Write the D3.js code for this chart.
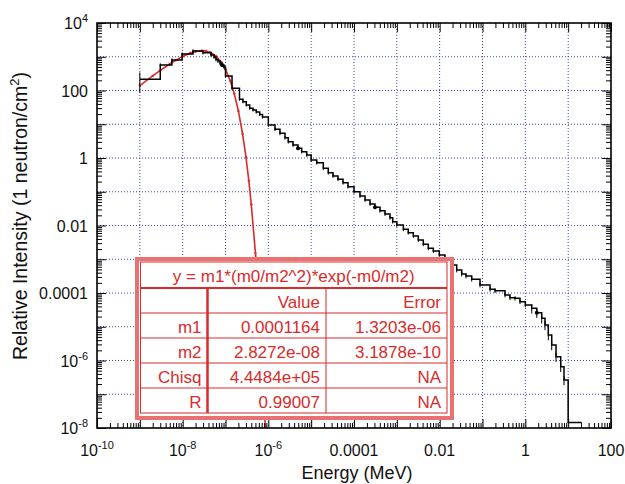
<!DOCTYPE html>
<html>
<head>
<meta charset="utf-8">
<script src="https://cdn.jsdelivr.net/npm/d3@7"></script>
<style>
  html, body { margin: 0; padding: 0; background: #fff; }
  svg { display: block; font-family: "Liberation Sans", Arial, Helvetica, sans-serif; }
</style>
</head>
<body>
<div id="chart"></div>
<script>
// Measured spectrum: bin start energy (MeV) and relative intensity
const binEnergy = [
  1e-9, 3e-9, 5.6e-9, 9.7e-9, 1.74e-8, 2.98e-8, 4.59e-8, 5.39e-8, 6.0e-8, 6.68e-8,
  7.44e-8, 8.29e-8, 9.23e-8, 1e-7, 1.42e-7, 2.12e-7, 2.56e-7, 3.06e-7, 3.67e-7, 4.39e-7,
  5.24e-7, 6.29e-7, 7.31e-7, 1e-6, 1.43e-6, 1.87e-6, 2.45e-6, 2.92e-6, 3.77e-6, 4.93e-6,
  6.01e-6, 7.87e-6, 1e-5, 1.35e-5, 1.92e-5, 2.51e-5, 3.24e-5, 4.23e-5, 5.54e-5, 7.24e-5,
  1e-4, 1.38e-4, 1.81e-4, 2.37e-4, 3.09e-4, 4.05e-4, 5.3e-4, 6.93e-4, 8.01e-4, 1e-3,
  1.42e-3, 1.85e-3, 2.43e-3, 3.17e-3, 4.15e-3, 5.43e-3, 7.11e-3, 9.8e-3, 1.33e-2, 1.91e-2,
  2.5e-2, 3.27e-2, 4.12e-2, 5.6e-2, 8.75e-2, 0.15, 0.196, 0.335, 0.438, 0.574,
  0.751, 1, 1.41, 1.85, 2.41, 2.88, 3.44, 4.13, 5.2, 6.7,
  8.0, 10, 20.7
];
const binIntensity = [
  215, 570, 801, 1206, 1480, 1318, 1127, 984, 829, 748,
  653, 570, 497, 269, 116, 54.9, 46.6, 37.2, 29.7, 26.4,
  23.1, 19.5, 16.4, 9.5, 7.08, 5.39, 4.0, 3.04, 2.43, 1.94,
  1.54, 1.23, 0.873, 0.726, 0.495, 0.367, 0.293, 0.234, 0.185, 0.141,
  0.1003, 0.0748, 0.057, 0.0434, 0.0346, 0.0274, 0.0219, 0.017, 0.013, 0.01035,
  0.00772, 0.00612, 0.00489, 0.00372, 0.00277, 0.00211, 0.00175, 0.001337, 0.000984, 0.000676,
  0.00048, 0.000366, 0.000319, 0.000255, 0.000173, 0.000129, 0.000117, 8.73e-5, 7.26e-5, 6.97e-5,
  5.52e-5, 4.41e-5, 3.52e-5, 2.61e-5, 1.78e-5, 1.13e-5, 5.7e-6, 2.88e-6, 1.3e-6, 6.55e-7,
  2.64e-7, 1.46e-8, 1.46e-8
];
// relative error of each bin (fraction of the value)
const binError = [
  0.6, 0.12, 0.12, 0.12, 0.12, 0.12, 0.12, 0.12, 0.12, 0.12,
  0.12, 0.12, 0.12, 0.1, 0.1, 0.1, 0.1, 0.1, 0.1, 0.1,
  0.1, 0.1, 0.1, 0.12, 0.12, 0.12, 0.12, 0.12, 0.12, 0.12,
  0.12, 0.12, 0.12, 0.12, 0.12, 0.12, 0.12, 0.12, 0.12, 0.12,
  0.12, 0.12, 0.12, 0.12, 0.12, 0.12, 0.12, 0.12, 0.12, 0.12,
  0.12, 0.12, 0.12, 0.12, 0.12, 0.12, 0.12, 0.12, 0.15, 0.15,
  0.15, 0.15, 0.15, 0.15, 0.15, 0.15, 0.15, 0.15, 0.15, 0.15,
  0.15, 0.15, 0.3, 0.3, 0.3, 0.3, 0.3, 0.3, 0.3, 0.3,
  0.3, 0, 0
];
// bins drawn with a filled marker
const markedBins = [11, 29, 44, 59, 73];

// Maxwellian fit curve (sampled points)
const fitEnergy = [
  1e-9, 2e-9, 3e-9, 5e-9, 7e-9, 1e-8, 1.5e-8, 2e-8, 2.83e-8, 3.5e-8,
  4.5e-8, 6e-8, 8e-8, 1e-7, 1.3e-7, 1.6e-7, 2e-7, 2.5e-7, 3e-7, 3.5e-7,
  4e-7, 5e-7, 6e-7, 7e-7, 8e-7, 8.5e-7
];
const fitValue = [
  140.5, 271.4, 392.9, 610.2, 795.9, 1022.5, 1285.2, 1435.7, 1514.7, 1478,
  1334, 1046.4, 687.4, 423.9, 190.6, 81.2, 24.68, 5.265, 1.078, 0.2143,
  0.04177, 1.52e-3, 5.31e-5, 1.8e-6, 6.0e-8, 1.085e-8
];

// Fit result table
const fitEquation = 'y = m1*(m0/m2^2)*exp(-m0/m2)';
const fitHeader = ['', 'Value', 'Error'];
const fitParams = ['m1', 'm2', 'Chisq', 'R'];
const fitValues = ['0.0001164', '2.8272e-08', '4.4484e+05', '0.99007'];
const fitErrors = ['1.3203e-06', '3.1878e-10', 'NA', 'NA'];

// Tick labels
const xTickValues = [1e-10, 1e-8, 1e-6, 1e-4, 1e-2, 1, 100];
const xTickLabels = ['10^-10', '10^-8', '10^-6', '0.0001', '0.01', '1', '100'];
const yTickValues = [1e4, 100, 1, 0.01, 1e-4, 1e-6, 1e-8];
const yTickLabels = ['10^4', '100', '1', '0.01', '0.0001', '10^-6', '10^-8'];

const width = 625, height = 484;
const margin = { top: 23, right: 14, bottom: 56, left: 97 };
const innerW = width - margin.left - margin.right;
const innerH = height - margin.top - margin.bottom;

const red = '#d92b2b';
const gridColor = '#3a46b8';

const x = d3.scaleLog().domain([1e-10, 100]).range([0, innerW]);
const y = d3.scaleLog().domain([1e-8, 1e4]).range([innerH, 0]);

const svg = d3.select('#chart')
  .append('svg')
  .attr('width', width)
  .attr('height', height);

const g = svg.append('g')
  .attr('transform', `translate(${margin.left},${margin.top})`);

// Decade and minor tick positions
const xDecades = d3.range(-10, 3).map(p => Math.pow(10, p));
const yDecades = d3.range(-8, 5).map(p => Math.pow(10, p));
const minorOf = decades => decades.slice(0, -1)
  .flatMap(d => d3.range(2, 10).map(k => k * d));

// Grid
g.append('g')
  .selectAll('line')
  .data(xDecades.slice(1, -1))
  .join('line')
  .attr('x1', d => x(d)).attr('x2', d => x(d))
  .attr('y1', 0).attr('y2', innerH)
  .attr('stroke', gridColor)
  .attr('stroke-dasharray', '1,2');

g.append('g')
  .selectAll('line')
  .data(yDecades.slice(1, -1))
  .join('line')
  .attr('x1', 0).attr('x2', innerW)
  .attr('y1', d => y(d)).attr('y2', d => y(d))
  .attr('stroke', gridColor)
  .attr('stroke-dasharray', '1,2');

// Clip for data
svg.append('defs').append('clipPath')
  .attr('id', 'plot-clip')
  .append('rect')
  .attr('width', innerW)
  .attr('height', innerH);

const dataLayer = g.append('g').attr('clip-path', 'url(#plot-clip)');

// Fit curve
const fitData = fitEnergy.map((e, i) => ({ e, v: fitValue[i] }));
dataLayer.append('path')
  .datum(fitData)
  .attr('fill', 'none')
  .attr('stroke', red)
  .attr('stroke-width', 1.6)
  .attr('d', d3.line().x(d => x(d.e)).y(d => y(d.v)));

dataLayer.append('g')
  .selectAll('circle')
  .data(fitData)
  .join('circle')
  .attr('cx', d => x(d.e))
  .attr('cy', d => y(d.v))
  .attr('r', 1.2)
  .attr('fill', red);

// Histogram
const bins = binEnergy.map((e, i) => ({ e, v: binIntensity[i], err: binError[i] }));
dataLayer.append('path')
  .datum(bins)
  .attr('fill', 'none')
  .attr('stroke', '#000')
  .attr('stroke-width', 1.5)
  .attr('d', d3.line().curve(d3.curveStepAfter).x(d => x(d.e)).y(d => y(d.v)));

// Error bars
dataLayer.append('g')
  .selectAll('line')
  .data(bins.filter(d => d.err > 0))
  .join('line')
  .attr('x1', d => x(d.e)).attr('x2', d => x(d.e))
  .attr('y1', d => y(d.v * (1 + d.err)))
  .attr('y2', d => y(d.v * (1 - d.err)))
  .attr('stroke', '#000')
  .attr('stroke-width', 1);

dataLayer.append('g')
  .selectAll('circle')
  .data(markedBins.map(i => bins[i]))
  .join('circle')
  .attr('cx', d => x(d.e))
  .attr('cy', d => y(d.v))
  .attr('r', 2)
  .attr('fill', '#000');

// Fit result table (inset)
const tb = { left: 137, top: 259, w: 315, h: 159, rowH: 25, titleH: 29 };
const cols = [tb.left + 3.5, tb.left + 70.5, tb.left + 189, tb.left + tb.w - 5];
const rowTop = tb.top + tb.titleH;
const rowsY = d3.range(6).map(i => rowTop + i * tb.rowH);

const table = svg.append('g').attr('class', 'fit-table');

table.append('rect')
  .attr('x', tb.left).attr('y', tb.top)
  .attr('width', tb.w).attr('height', tb.h)
  .attr('fill', '#fff')
  .attr('stroke', '#e87272')
  .attr('stroke-width', 4);

table.append('rect')
  .attr('x', cols[0]).attr('y', tb.top + 3)
  .attr('width', cols[3] - cols[0])
  .attr('height', rowsY[5] - tb.top - 3)
  .attr('fill', 'none')
  .attr('stroke', red)
  .attr('stroke-width', 1);

table.append('g')
  .selectAll('line')
  .data(rowsY.slice(0, 5))
  .join('line')
  .attr('x1', cols[0]).attr('x2', cols[3])
  .attr('y1', d => d).attr('y2', d => d)
  .attr('stroke', red)
  .attr('stroke-width', (d, i) => i === 0 ? 2 : 1);

table.append('line')
  .attr('x1', cols[1]).attr('x2', cols[1])
  .attr('y1', rowsY[0]).attr('y2', rowsY[5])
  .attr('stroke', red)
  .attr('stroke-width', 2.5);

table.append('line')
  .attr('x1', cols[2]).attr('x2', cols[2])
  .attr('y1', rowsY[0]).attr('y2', rowsY[5])
  .attr('stroke', red)
  .attr('stroke-width', 1);

table.append('text')
  .attr('x', (cols[0] + cols[3]) / 2)
  .attr('y', rowsY[0] - 6)
  .attr('text-anchor', 'middle')
  .attr('fill', red)
  .style('font-size', '17px')
  .text(fitEquation);

const tableRows = [fitHeader].concat(fitParams.map((p, i) => [p, fitValues[i], fitErrors[i]]));
tableRows.forEach((row, r) => {
  row.forEach((cell, c) => {
    table.append('text')
      .attr('x', cols[c + 1] - 6)
      .attr('y', rowsY[r + 1] - 5)
      .attr('text-anchor', 'end')
      .attr('fill', red)
      .style('font-size', '17px')
      .text(cell);
  });
});

// Axes: major and minor ticks on all four sides, pointing inward
function ticks(axisFn, scale, values, size, transform) {
  g.append('g')
    .attr('transform', transform)
    .call(axisFn(scale).tickValues(values).tickSize(-size).tickFormat(() => ''))
    .call(s => s.select('.domain').remove())
    .selectAll('line')
    .attr('stroke', '#000')
    .attr('stroke-width', 1);
}

ticks(d3.axisBottom, x, xDecades, 9, `translate(0,${innerH})`);
ticks(d3.axisBottom, x, minorOf(xDecades), 5, `translate(0,${innerH})`);
ticks(d3.axisTop, x, xDecades, 9, 'translate(0,0)');
ticks(d3.axisTop, x, minorOf(xDecades), 5, 'translate(0,0)');
ticks(d3.axisLeft, y, yDecades, 9, 'translate(0,0)');
ticks(d3.axisLeft, y, minorOf(yDecades), 5, 'translate(0,0)');
ticks(d3.axisRight, y, yDecades, 9, `translate(${innerW},0)`);
ticks(d3.axisRight, y, minorOf(yDecades), 5, `translate(${innerW},0)`);

g.append('rect')
  .attr('width', innerW)
  .attr('height', innerH)
  .attr('fill', 'none')
  .attr('stroke', '#000')
  .attr('stroke-width', 1.6);

// Tick labels with superscript exponents
function writeLabel(text, label) {
  const [base, exp] = label.split('^');
  text.append('tspan').text(base);
  if (exp) {
    text.append('tspan')
      .attr('dy', -7)
      .style('font-size', '11px')
      .text(exp);
  }
}

xTickValues.forEach((v, i) => {
  const t = g.append('text')
    .attr('x', x(v))
    .attr('y', innerH + 28)
    .attr('text-anchor', 'middle')
    .style('font-size', '16px')
    .attr('fill', '#111');
  writeLabel(t, xTickLabels[i]);
});

yTickValues.forEach((v, i) => {
  const t = g.append('text')
    .attr('x', -9)
    .attr('y', y(v) + 6)
    .attr('text-anchor', 'end')
    .style('font-size', '16px')
    .attr('fill', '#111');
  writeLabel(t, yTickLabels[i]);
});

// Axis titles
svg.append('text')
  .attr('x', margin.left + innerW / 2 + 3)
  .attr('y', 479)
  .attr('text-anchor', 'middle')
  .style('font-size', '18px')
  .attr('fill', '#111')
  .text('Energy (MeV)');

const yTitle = svg.append('text')
  .attr('transform', `translate(27,216) rotate(-90)`)
  .attr('text-anchor', 'middle')
  .style('font-size', '19.5px')
  .attr('fill', '#111');
yTitle.append('tspan').text('Relative Intensity (1 neutron/cm');
yTitle.append('tspan').attr('dy', -8).style('font-size', '13px').text('2');
yTitle.append('tspan').attr('dy', 8).text(')');
</script>
</body>
</html>
